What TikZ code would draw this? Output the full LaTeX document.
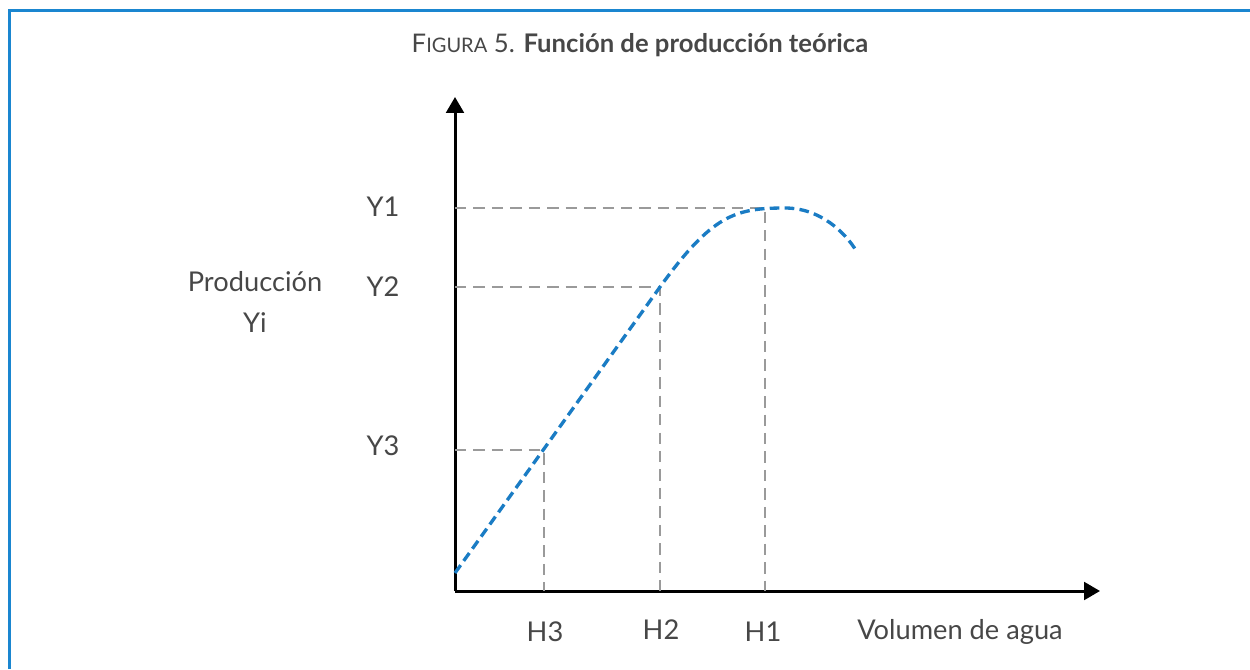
\documentclass[tikz,border=0pt]{standalone}
\usepackage{fontspec}
\setmainfont{Lato}
\usetikzlibrary{positioning,arrows.meta}
\definecolor{frameblue}{HTML}{1A86D0}
\definecolor{curveblue}{HTML}{1A7CC4}
\definecolor{guidegray}{HTML}{9A9A9A}
\definecolor{textgray}{HTML}{474747}
\tikzset{
  axis/.style={line width=1.7pt,-{Triangle[width=10pt,length=9pt]}},
  guide/.style={guidegray,line width=1.5pt,dash pattern=on 6.5pt off 4pt},
  curve/.style={curveblue,line width=1.9pt,dash pattern=on 5.5pt off 3pt},
  lbl/.style={text=textgray,font=\fontsize{15.5}{19}\selectfont,inner sep=0pt}
}

\begin{document}
\begin{tikzpicture}[x=0.02cm,y=-0.02cm]
\useasboundingbox (0,0) rectangle (1250,669);
%% frame
\draw [frameblue,line width=1.7pt] (9.5,669) -- (9.5,10.5) -- (1250,10.5);
%the title
\node [text=textgray,font=\fontsize{14.6}{17}\selectfont] (title) at (640,45)
  {F{\fontsize{11.4}{13}\selectfont IGURA} 5. \textbf{Función de producción teórica}};
%axes
\coordinate (origin) at (455,591);
\coordinate (ytip) at (455,97);
\coordinate (xtip) at (1100,591);
\draw [axis] (origin) -- (ytip);
\draw [axis] (origin) -- (xtip);
%points on the curve
\coordinate (start) at (455,573);
\coordinate (p3) at (544,450);
\coordinate (p2) at (660,287);
\coordinate (p1) at (765,208);
\coordinate (stop) at (857,252);
%the labels
\node [lbl] (y1) at (383,207) {Y1};
\node [lbl] (y2) at (383,287) {Y2};
\node [lbl] (y3) at (383,446) {Y3};
\node [lbl] (h3) at (545,632) {H3};
\node [lbl] (h2) at (661,630) {H2};
\node [lbl] (h1) at (763,632) {H1};
\node [lbl] (volumen) at (960,632) {Volumen de agua};
\node [lbl,align=center] (produccion) at (255,302) {Producción\\[4pt]Yi};
%drawings of guides
\draw [guide] (p1 -| origin) -- (p1) -- (p1 |- origin);
\draw [guide] (p2 -| origin) -- (p2) -- (p2 |- origin);
\draw [guide] (p3 -| origin) -- (p3) -- (p3 |- origin);
%the curve
\draw [curve] (start) -- (p2) .. controls (712,215) and (735,208) .. (785,208)
  .. controls (820,208) and (845,232) .. (stop);
\end{tikzpicture}
\end{document}
